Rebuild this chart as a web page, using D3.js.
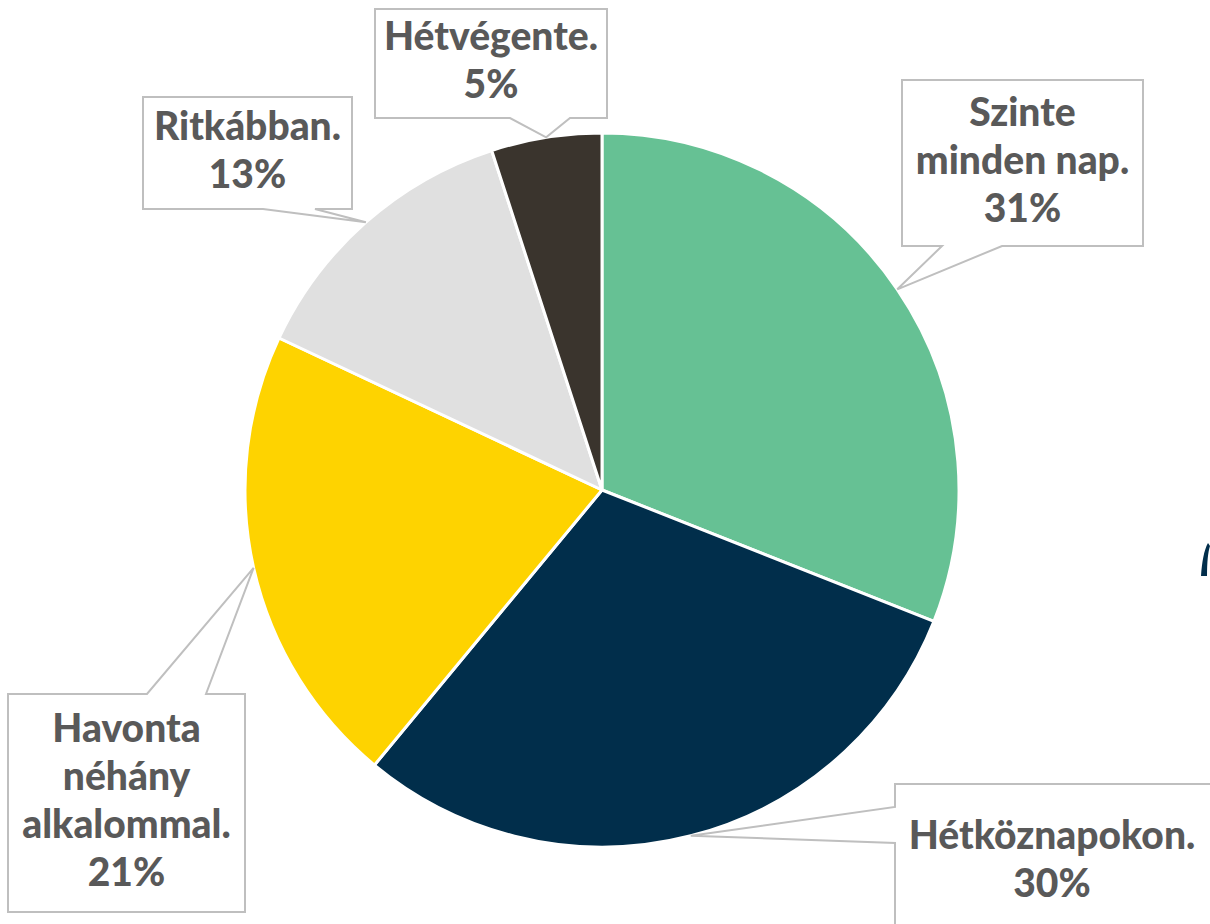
<!DOCTYPE html>
<html>
<head>
<meta charset="utf-8">
<script src="https://cdn.jsdelivr.net/npm/d3@7"></script>
<style>
  body { margin: 0; background: #fff; }
  svg { display: block; }
</style>
</head>
<body>
<div id="chart"></div>
<script>
const WIDTH = 1210;
const HEIGHT = 924;

// datos
const categorias = ["Szinte minden nap.", "Hétköznapokon.", "Havonta néhány alkalommal.", "Ritkábban.", "Hétvégente."];
const valores = [31, 30, 21, 13, 5];
const colores = ["#66C194", "#012E4B", "#FED300", "#E0E0E0", "#3A342D"];
// lineas de texto de cada etiqueta
const lineas = [
  ["Szinte", "minden nap.", "31%"],
  ["Hétköznapokon.", "30%"],
  ["Havonta", "néhány", "alkalommal.", "21%"],
  ["Ritkábban.", "13%"],
  ["Hétvégente.", "5%"]
];

// cajas de etiquetas: x, y, w, h, lado de la flecha, base de la flecha
const cajas = [
  { x: 902, y: 80, w: 241, h: 166, lado: "bottom", b0: 942, b1: 1002 },
  { x: 895, y: 784, w: 330, h: 160, lado: "left", b0: 807, b1: 843 },
  { x: 8, y: 694, w: 237, h: 218, lado: "top", b0: 147, b1: 206 },
  { x: 143, y: 97, w: 209, h: 112, lado: "bottom", b0: 263, b1: 315 },
  { x: 375, y: 9, w: 232, h: 109, lado: "bottom", b0: 510, b1: 570 }
];

const CX = 602, CY = 490, R = 357;

const SVG = d3.select("#chart").append("svg")
  .attr("width", WIDTH).attr("height", HEIGHT);

const pie = d3.pie().sort(null).value(d => d);
const arcos = pie(valores);
const arc = d3.arc().innerRadius(0).outerRadius(R);
const arcBorde = d3.arc().innerRadius(R).outerRadius(R);

const g = SVG.append("g").attr("transform", `translate(${CX},${CY})`);

g.selectAll("path")
  .data(arcos)
  .enter()
  .append("path")
  .attr("d", arc)
  .attr("fill", (d, i) => colores[i])
  .attr("stroke", "#fff")
  .attr("stroke-width", 3)
  .attr("stroke-linejoin", "round");

// pequeño resto oscuro a la derecha
SVG.append("path")
  .attr("d", "M1208,543 C1204,550 1202,562 1201,576 L1207,576 C1207,562 1208,552 1210,546 Z")
  .attr("fill", "#012E4B");

// etiquetas tipo globo
arcos.forEach((d, i) => {
  const c = cajas[i];
  const [px, py] = arcBorde.centroid(d);
  const ax = CX + px, ay = CY + py;
  const x0 = c.x, y0 = c.y, x1 = c.x + c.w, y1 = c.y + c.h;
  let pts;
  if (c.lado === "bottom") {
    pts = [[x0, y0], [x1, y0], [x1, y1], [c.b1, y1], [ax, ay], [c.b0, y1], [x0, y1]];
  } else if (c.lado === "top") {
    pts = [[x0, y0], [c.b0, y0], [ax, ay], [c.b1, y0], [x1, y0], [x1, y1], [x0, y1]];
  } else {
    pts = [[x0, y0], [x1, y0], [x1, y1], [x0, y1], [x0, c.b1], [ax, ay], [x0, c.b0]];
  }
  SVG.append("path")
    .attr("d", d3.line()(pts) + "Z")
    .attr("fill", "#fff")
    .attr("stroke", "#BFBFBF")
    .attr("stroke-width", 2);

  const lh = 48;
  const cxTexto = i === 1 ? 1052 : (x0 + x1) / 2;
  const total = lineas[i].length * lh;
  const cyTexto = i === 1 ? 862 : (y0 + y1) / 2;
  const t = SVG.append("text")
    .attr("text-anchor", "middle")
    .attr("font-family", "Lato, 'Open Sans', sans-serif")
    .attr("font-weight", "900")
    .attr("font-size", "39px")
    .attr("fill", "#595959");
  lineas[i].forEach((l, j) => {
    t.append("tspan")
      .attr("x", cxTexto)
      .attr("y", cyTexto - total / 2 + lh * j + lh * 0.72)
      .text(l);
  });
});
</script>
</body>
</html>
